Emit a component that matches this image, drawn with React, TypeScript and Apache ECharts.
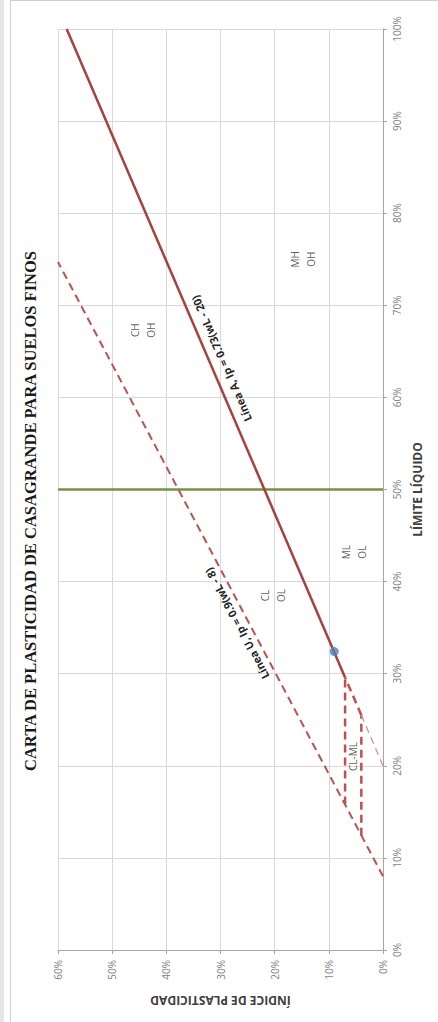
import React, { useEffect, useRef } from "react";
import * as echarts from "echarts";

// Trazos de la carta, como pares [límite líquido wL %, índice de plasticidad Ip %]
const lineASolid = [[29.6, 7.0], [100, 58.4]];
const lineAZoneEdge = [[25.5, 4.0], [29.6, 7.0]];
const lineATail = [[20, 0], [25.5, 4.0]];
const lineU = [[8, 0], [74.7, 60]];
const zoneTop = [[15.8, 7], [29.6, 7]];
const zoneBottom = [[12.4, 4], [25.5, 4]];
const liquidLimit50 = [[50, 0], [50, 60]];
const sample = [[32.4, 9.0]];

// Rótulos de zonas
const zoneNames = ["CH\nOH", "MH\nOH", "CL\nOL", "ML\nOL", "CL-ML"];
const zoneLL = [67.3, 75.0, 38.5, 43.2, 21.0];
const zonePI = [44.3, 14.8, 20.4, 5.4, 5.5];

// Rótulos de las líneas A y U, y el wL donde se colocan
const lineLabels = ["Línea A, Ip = 0.73(wL - 20)", "Línea U, Ip = 0.9(wL - 8)"];
const lineLabelLL = [63.7, 36.0];

const TITLE = "CARTA DE PLASTICIDAD DE CASAGRANDE PARA SUELOS FINOS";

// [wL, Ip] -> [x, y] of the chart (x = Ip, y = wL)
const toXY = (pts: number[][]) => pts.map((p) => [p[1], p[0]]);

const SANS = "'Open Sans', 'Liberation Sans', sans-serif";

export default function App() {
  const ref = useRef<HTMLDivElement>(null);

  useEffect(() => {
    if (!ref.current) return;
    const chart = echarts.init(ref.current, null, { renderer: "svg" });

    const dashed = (data: number[][], color: string, width: number, dash: number[]) => ({
      type: "line",
      data: toXY(data),
      showSymbol: false,
      symbol: "none",
      silent: true,
      lineStyle: { color, width, type: dash, cap: "butt" },
    });

    chart.setOption({
      animation: false,
      backgroundColor: "#ffffff",
      grid: { left: 58, right: 55, top: 29, bottom: 72 },
      xAxis: {
        type: "value",
        min: 0,
        max: 60,
        interval: 10,
        inverse: true,
        position: "bottom",
        name: "ÍNDICE DE PLASTICIDAD",
        nameLocation: "middle",
        nameGap: 44,
        nameRotate: 180,
        nameTextStyle: { fontFamily: SANS, fontWeight: "bold", fontSize: 12, color: "#404040" },
        axisLine: { show: true, onZero: false, lineStyle: { color: "#A6A6A6", width: 1 } },
        axisTick: { show: true, length: 4, lineStyle: { color: "#A6A6A6" } },
        axisLabel: {
          rotate: 90,
          margin: 10,
          formatter: "{value}%",
          fontFamily: SANS,
          fontSize: 10,
          color: "#7f7f7f",
        },
        splitLine: { show: true, lineStyle: { color: "#D9D9D9", width: 1 } },
      },
      yAxis: {
        type: "value",
        min: 0,
        max: 100,
        interval: 10,
        position: "right",
        name: "LÍMITE LÍQUIDO",
        nameLocation: "middle",
        nameGap: 28,
        nameRotate: 90,
        nameTextStyle: { fontFamily: SANS, fontWeight: "bold", fontSize: 12, color: "#404040" },
        axisLine: { show: true, onZero: false, lineStyle: { color: "#A6A6A6", width: 1 } },
        axisTick: { show: true, length: 4, lineStyle: { color: "#A6A6A6" } },
        axisLabel: {
          rotate: 90,
          margin: 9,
          formatter: "{value}%",
          fontFamily: SANS,
          fontSize: 10,
          color: "#7f7f7f",
        },
        splitLine: { show: true, lineStyle: { color: "#D9D9D9", width: 1 } },
      },
      series: [
        {
          type: "line",
          data: toXY(liquidLimit50),
          showSymbol: false,
          symbol: "none",
          silent: true,
          lineStyle: { color: "#77933C", width: 2.5 },
        },
        dashed(lineU, "#C0504D", 2, [8, 5]),
        dashed(zoneTop, "#C0504D", 2.5, [8, 5]),
        dashed(zoneBottom, "#C0504D", 2.5, [8, 5]),
        dashed(lineAZoneEdge, "#C0504D", 2.5, [8, 5]),
        dashed(lineATail, "#D39290", 1.3, [7, 5]),
        {
          type: "line",
          data: toXY(lineASolid),
          showSymbol: false,
          symbol: "none",
          silent: true,
          lineStyle: { color: "#A9403E", width: 2.5 },
        },
        {
          type: "scatter",
          data: zoneNames.map((n, i) => ({ name: n, value: [zonePI[i], zoneLL[i]] })),
          symbolSize: 1,
          itemStyle: { color: "rgba(0,0,0,0)" },
          silent: true,
          label: {
            show: true,
            position: "inside",
            formatter: "{b}",
            rotate: 90,
            fontFamily: SANS,
            fontSize: 10,
            lineHeight: 16,
            color: "#333333",
          },
        },
        {
          type: "scatter",
          data: toXY(sample),
          symbolSize: 9,
          itemStyle: { color: "#4F81BD" },
          z: 5,
        },
      ],
    });

    // Rótulos alineados con las líneas A y U
    const segs = [lineASolid, lineU];
    const gaps = [-12, 11];
    const lineTexts = segs.map((seg, i) => {
      const p0 = chart.convertToPixel({ gridIndex: 0 }, [seg[0][1], seg[0][0]]) as number[];
      const p1 = chart.convertToPixel({ gridIndex: 0 }, [seg[1][1], seg[1][0]]) as number[];
      const t = (lineLabelLL[i] - seg[0][0]) / (seg[1][0] - seg[0][0]);
      const cx = p0[0] + t * (p1[0] - p0[0]);
      const cy = p0[1] + t * (p1[1] - p0[1]);
      const dx = p1[0] - p0[0];
      const dy = p1[1] - p0[1];
      const len = Math.hypot(dx, dy);
      const ux = dx / len;
      const uy = dy / len;
      // "up" of the text, perpendicular to the reading direction
      const nx = uy;
      const ny = -ux;
      return {
        type: "text",
        x: cx + nx * gaps[i],
        y: cy + ny * gaps[i],
        rotation: Math.atan2(-uy, ux),
        silent: true,
        z: 10,
        style: {
          text: lineLabels[i],
          fontFamily: SANS,
          fontWeight: "bold",
          fontSize: 11,
          fill: "#262626",
          align: "center",
          verticalAlign: "middle",
        },
      };
    });

    chart.setOption({
      graphic: [
        {
          type: "rect",
          shape: { x: 0, y: 0, width: 4, height: 1022 },
          style: { fill: "#e6e6e6" },
          silent: true,
        },
        {
          type: "line",
          shape: { x1: 10.5, y1: 0, x2: 10.5, y2: 1022 },
          style: { stroke: "#cfcfcf", lineWidth: 1 },
          silent: true,
        },
        {
          type: "line",
          shape: { x1: 10, y1: 0.5, x2: 438, y2: 0.5 },
          style: { stroke: "#cfcfcf", lineWidth: 1 },
          silent: true,
        },
        {
          type: "text",
          x: 30,
          y: 511,
          rotation: Math.PI / 2,
          silent: true,
          style: {
            text: TITLE,
            fontFamily: "'Liberation Serif', 'Times New Roman', serif",
            fontWeight: "bold",
            fontSize: 16.5,
            fill: "#1a1a1a",
            align: "center",
            verticalAlign: "middle",
          },
        },
        ...lineTexts,
      ],
    });

    return () => chart.dispose();
  }, []);

  return (
    <div
      ref={ref}
      style={{ position: "absolute", left: 0, top: 0, width: 438, height: 1022, background: "#fff" }}
    />
  );
}
